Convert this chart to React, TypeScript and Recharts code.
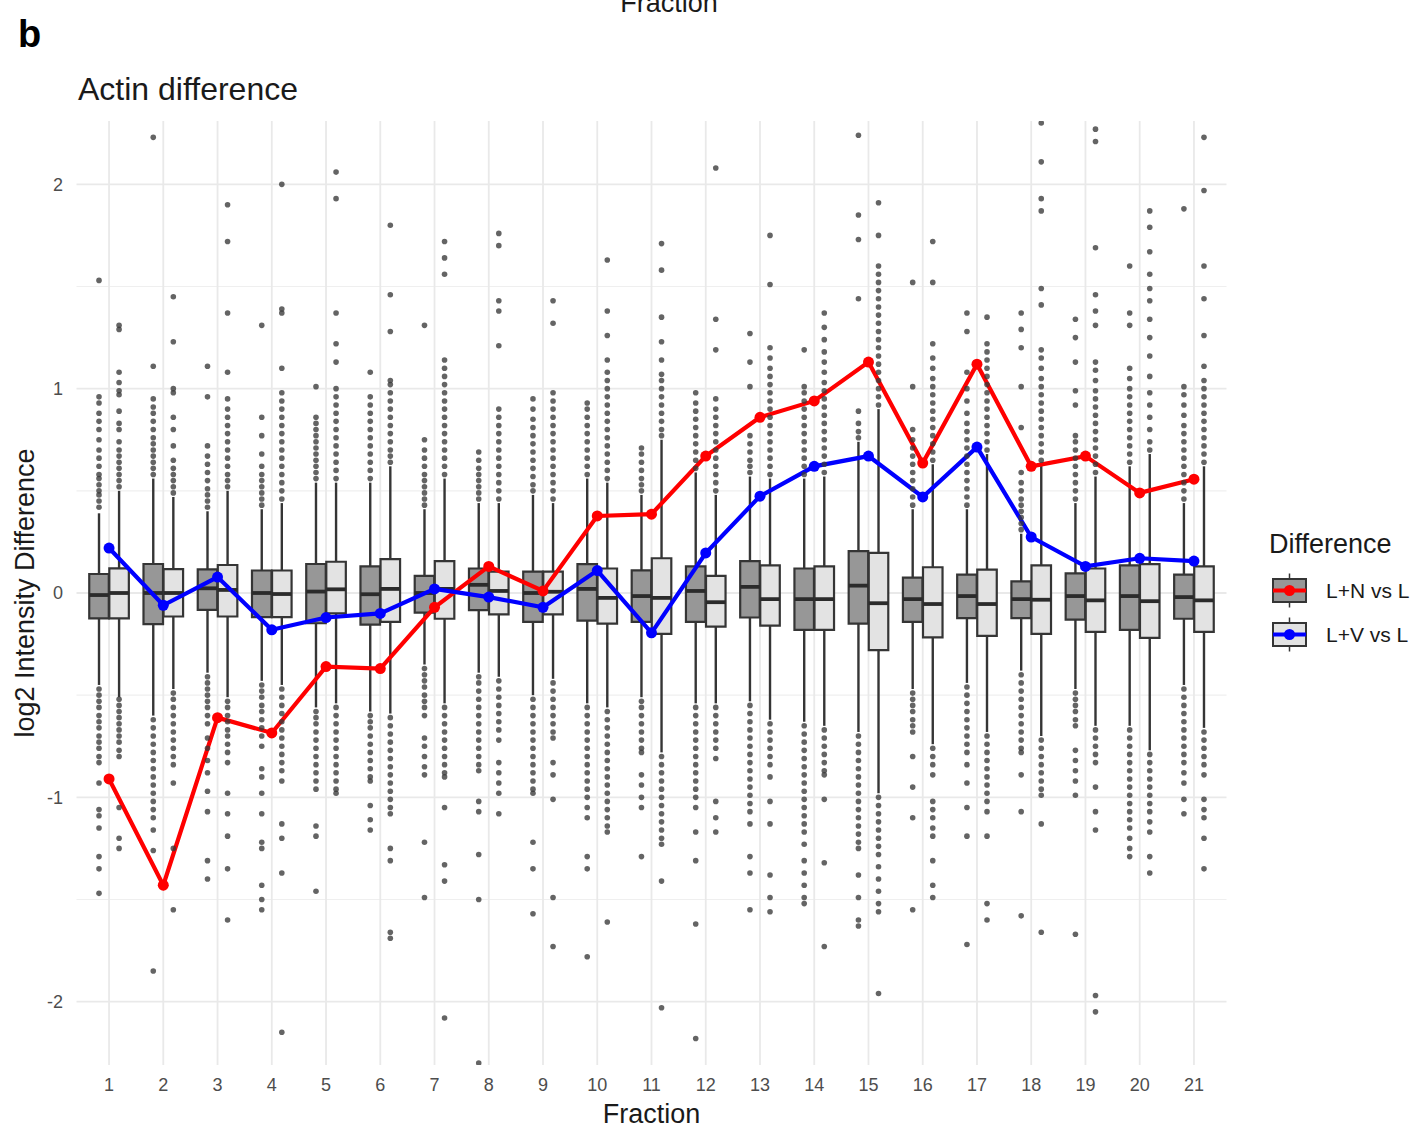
import React from 'react';
import {
  ComposedChart,
  XAxis,
  YAxis,
  CartesianGrid,
  ReferenceArea,
  ReferenceLine,
  Scatter,
  Line,
} from 'recharts';

const FONT = '"Liberation Sans", Arial, Helvetica, sans-serif';

const FRACTIONS = [1, 2, 3, 4, 5, 6, 7, 8, 9, 10, 11, 12, 13, 14, 15, 16, 17, 18, 19, 20, 21];
const Y_TICKS = [-2, -1, 0, 1, 2];
const Y_MINOR = [-1.5, -0.5, 0.5, 1.5];

// L+N vs L (dark boxes)
const LN_MEDIAN = [-0.01, 0, 0.023, 0, 0.007, -0.006, 0, 0.04, 0, 0.02, -0.015, 0.01, 0.03, -0.03, 0.036, -0.03, -0.015, -0.03, -0.015, -0.015, -0.02];
const LN_Q3 = [0.093, 0.142, 0.116, 0.11, 0.142, 0.13, 0.084, 0.12, 0.105, 0.141, 0.111, 0.13, 0.156, 0.12, 0.205, 0.075, 0.09, 0.057, 0.096, 0.135, 0.09];
const LN_Q1 = [-0.124, -0.152, -0.083, -0.118, -0.148, -0.155, -0.096, -0.084, -0.141, -0.135, -0.141, -0.141, -0.12, -0.18, -0.15, -0.141, -0.123, -0.123, -0.13, -0.18, -0.126];
const LN_HIGH = [0.39, 0.56, 0.4, 0.41, 0.54, 0.54, 0.41, 0.44, 0.48, 0.56, 0.48, 0.59, 0.57, 0.56, 0.74, 0.41, 0.41, 0.29, 0.44, 0.62, 0.44];
const LN_LOW = [-0.45, -0.6, -0.39, -0.43, -0.56, -0.58, -0.35, -0.39, -0.5, -0.54, -0.51, -0.54, -0.53, -0.63, -0.68, -0.47, -0.44, -0.38, -0.47, -0.65, -0.45];

// L+V vs L (light boxes)
const LV_MEDIAN = [0, 0, 0.015, -0.005, 0.018, 0.02, 0.02, 0.01, 0.006, -0.024, -0.024, -0.045, -0.03, -0.03, -0.05, -0.054, -0.054, -0.033, -0.036, -0.04, -0.036];
const LV_Q3 = [0.121, 0.117, 0.137, 0.11, 0.153, 0.166, 0.156, 0.105, 0.105, 0.12, 0.17, 0.084, 0.135, 0.13, 0.196, 0.126, 0.114, 0.135, 0.12, 0.141, 0.13];
const LV_Q1 = [-0.124, -0.115, -0.115, -0.118, -0.1, -0.141, -0.126, -0.105, -0.105, -0.15, -0.2, -0.165, -0.16, -0.18, -0.28, -0.217, -0.21, -0.2, -0.19, -0.22, -0.19];
const LV_HIGH = [0.5, 0.47, 0.5, 0.44, 0.54, 0.62, 0.56, 0.44, 0.44, 0.54, 0.75, 0.48, 0.56, 0.57, 0.9, 0.63, 0.68, 0.63, 0.57, 0.68, 0.62];
const LV_LOW = [-0.51, -0.47, -0.51, -0.45, -0.54, -0.59, -0.54, -0.41, -0.42, -0.56, -0.78, -0.54, -0.62, -0.65, -0.98, -0.74, -0.68, -0.7, -0.65, -0.77, -0.66];

// summary lines
const LN_LINE = [-0.91, -1.43, -0.61, -0.685, -0.36, -0.37, -0.07, 0.13, 0.01, 0.377, 0.386, 0.67, 0.86, 0.94, 1.13, 0.636, 1.12, 0.62, 0.67, 0.49, 0.557];
const LV_LINE = [0.22, -0.06, 0.078, -0.18, -0.12, -0.1, 0.02, -0.02, -0.07, 0.11, -0.195, 0.196, 0.474, 0.62, 0.67, 0.47, 0.714, 0.274, 0.13, 0.17, 0.156];

// outliers, per fraction
const LN_OUTLIERS = [
  [0.42, 0.45, 0.48, 0.5, 0.53, 0.56, 0.58, 0.62, 0.66, 0.7, 0.75, 0.8, 0.84, 0.88, 0.93, 0.96, 1.53, -0.47, -0.5, -0.53, -0.56, -0.6, -0.63, -0.66, -0.7, -0.73, -0.76, -0.8, -0.83, -0.93, -1.06, -1.09, -1.15, -1.29, -1.35, -1.47],
  [0.58, 0.61, 0.64, 0.67, 0.7, 0.73, 0.76, 0.8, 0.84, 0.88, 0.91, 0.95, 1.11, 2.23, -0.62, -0.66, -0.7, -0.74, -0.78, -0.82, -0.86, -0.9, -0.94, -0.98, -1.02, -1.06, -1.1, -1.16, -1.26, -1.85],
  [0.42, 0.45, 0.48, 0.51, 0.55, 0.59, 0.63, 0.67, 0.72, 0.96, 1.11, -0.41, -0.44, -0.47, -0.5, -0.53, -0.56, -0.6, -0.64, -0.71, -0.76, -0.82, -0.88, -0.97, -1.07, -1.31, -1.4],
  [0.43, 0.46, 0.49, 0.52, 0.55, 0.58, 0.62, 0.68, 0.77, 0.86, 1.31, -0.45, -0.48, -0.51, -0.55, -0.58, -0.62, -0.66, -0.7, -0.75, -0.86, -0.9, -0.98, -1.08, -1.22, -1.25, -1.43, -1.5, -1.55],
  [0.56, 0.59, 0.62, 0.65, 0.68, 0.71, 0.74, 0.77, 0.8, 0.83, 0.86, 1.01, -0.58, -0.61, -0.64, -0.68, -0.72, -0.76, -0.8, -0.84, -0.88, -0.92, -0.96, -1.14, -1.19, -1.46],
  [0.56, 0.6, 0.64, 0.68, 0.72, 0.76, 0.8, 0.84, 0.88, 0.92, 0.96, 1.08, -0.6, -0.63, -0.66, -0.7, -0.74, -0.78, -0.82, -0.86, -0.9, -0.92, -1.04, -1.11, -1.16],
  [0.43, 0.46, 0.49, 0.52, 0.55, 0.58, 0.62, 0.66, 0.7, 0.75, 1.31, -0.37, -0.4, -0.43, -0.46, -0.5, -0.53, -0.56, -0.6, -0.71, -0.75, -0.8, -0.85, -0.89, -1.22, -1.49],
  [0.46, 0.49, 0.52, 0.55, 0.58, 0.61, 0.65, 0.69, -0.41, -0.44, -0.48, -0.52, -0.56, -0.6, -0.64, -0.68, -0.72, -0.76, -0.8, -0.84, -0.87, -1.02, -1.07, -1.28, -1.5, -2.3],
  [0.5, 0.53, 0.57, 0.61, 0.65, 0.69, 0.73, 0.77, 0.81, 0.85, 0.9, 0.95, -0.52, -0.56, -0.6, -0.64, -0.68, -0.72, -0.76, -0.8, -0.84, -0.88, -0.92, -0.96, -0.98, -1.22, -1.35, -1.57],
  [0.58, 0.62, 0.66, 0.7, 0.74, 0.78, 0.82, 0.86, 0.9, 0.93, -0.56, -0.6, -0.64, -0.68, -0.72, -0.76, -0.8, -0.84, -0.88, -0.92, -0.96, -1.0, -1.05, -1.1, -1.29, -1.35, -1.78],
  [0.5, 0.53, 0.56, 0.6, 0.64, 0.68, 0.71, -0.53, -0.56, -0.6, -0.64, -0.68, -0.72, -0.76, -0.78, -0.89, -0.94, -1.0, -1.05, -1.29],
  [0.61, 0.65, 0.69, 0.73, 0.77, 0.81, 0.85, 0.89, 0.93, 0.98, -0.56, -0.6, -0.64, -0.68, -0.72, -0.76, -0.8, -0.84, -0.88, -0.92, -0.96, -1.0, -1.05, -1.17, -1.31, -1.62, -2.18],
  [0.59, 0.62, 0.65, 0.69, 0.73, 0.77, 1.01, 1.13, 1.27, -0.55, -0.59, -0.63, -0.67, -0.71, -0.75, -0.79, -0.83, -0.87, -0.91, -0.95, -0.99, -1.03, -1.07, -1.13, -1.29, -1.37, -1.55],
  [0.58, 0.62, 0.66, 0.7, 0.74, 0.78, 0.82, 0.86, 0.9, 0.94, 0.98, 1.01, 1.19, -0.65, -0.69, -0.73, -0.77, -0.81, -0.85, -0.89, -0.93, -0.97, -1.01, -1.05, -1.09, -1.13, -1.17, -1.23, -1.31, -1.37, -1.43, -1.49, -1.52],
  [0.76, 0.79, 0.83, 0.89, 1.44, 1.73, 1.85, 2.24, -0.7, -0.74, -0.78, -0.82, -0.86, -0.9, -0.94, -0.98, -1.02, -1.06, -1.1, -1.14, -1.18, -1.22, -1.25, -1.38, -1.49, -1.6, -1.63],
  [0.43, 0.47, 0.51, 0.55, 0.59, 0.63, 0.67, 0.71, 0.75, 0.8, 1.01, 1.52, -0.49, -0.52, -0.55, -0.58, -0.62, -0.65, -0.68, -0.8, -0.95, -1.1, -1.55],
  [0.43, 0.47, 0.51, 0.55, 0.59, 0.63, 0.67, 0.71, 0.75, 0.79, 0.83, 0.88, 0.94, 1.0, 1.08, 1.28, 1.37, -0.46, -0.5, -0.54, -0.58, -0.62, -0.66, -0.7, -0.74, -0.78, -0.84, -0.93, -1.05, -1.19, -1.72],
  [0.31, 0.34, 0.37, 0.4, 0.43, 0.46, 0.5, 0.54, 0.59, 0.81, 1.01, 1.2, 1.29, 1.37, -0.4, -0.44, -0.48, -0.52, -0.56, -0.6, -0.64, -0.68, -0.72, -0.76, -0.78, -0.89, -1.07, -1.58],
  [0.46, 0.5, 0.54, 0.58, 0.62, 0.66, 0.7, 0.74, 0.77, 0.92, 0.99, 1.13, 1.25, 1.34, -0.49, -0.52, -0.55, -0.58, -0.62, -0.65, -0.77, -0.82, -0.87, -0.92, -0.99, -1.67],
  [0.64, 0.68, 0.72, 0.76, 0.8, 0.84, 0.88, 0.92, 0.96, 1.0, 1.05, 1.1, 1.31, 1.37, 1.6, -0.67, -0.71, -0.75, -0.79, -0.83, -0.87, -0.91, -0.95, -0.99, -1.03, -1.07, -1.11, -1.15, -1.2, -1.25, -1.29],
  [0.46, 0.5, 0.54, 0.58, 0.62, 0.66, 0.7, 0.74, 0.78, 0.82, 0.87, 0.92, 0.97, 1.01, 1.88, -0.47, -0.51, -0.55, -0.59, -0.63, -0.67, -0.71, -0.75, -0.79, -0.83, -0.88, -0.93, -1.01, -1.08],
];

const LV_OUTLIERS = [
  [0.52, 0.55, 0.58, 0.61, 0.64, 0.67, 0.7, 0.74, 0.8, 0.83, 0.89, 0.97, 0.99, 1.03, 1.08, 1.29, 1.31, -0.52, -0.55, -0.58, -0.61, -0.64, -0.67, -0.7, -0.73, -0.77, -0.8, -1.05, -1.2, -1.25],
  [0.49, 0.52, 0.55, 0.58, 0.61, 0.65, 0.72, 0.8, 0.86, 0.98, 1.0, 1.23, 1.45, -0.49, -0.52, -0.56, -0.6, -0.64, -0.68, -0.72, -0.76, -0.8, -0.84, -0.93, -1.25, -1.55],
  [0.52, 0.55, 0.58, 0.62, 0.66, 0.7, 0.74, 0.78, 0.82, 0.86, 0.9, 0.95, 1.08, 1.37, 1.72, 1.9, -0.53, -0.56, -0.6, -0.63, -0.67, -0.7, -0.74, -0.78, -0.83, -0.98, -1.08, -1.19, -1.35, -1.6],
  [0.46, 0.5, 0.54, 0.58, 0.62, 0.66, 0.7, 0.74, 0.78, 0.82, 0.86, 0.9, 0.94, 0.98, 1.1, 1.37, 1.39, 2.0, -0.47, -0.51, -0.55, -0.59, -0.63, -0.67, -0.71, -0.75, -0.79, -0.83, -0.87, -0.92, -1.13, -1.2, -1.37, -2.15],
  [0.56, 0.6, 0.64, 0.68, 0.72, 0.76, 0.8, 0.84, 0.88, 0.92, 0.96, 1.0, 1.13, 1.22, 1.37, 1.93, 2.06, -0.56, -0.6, -0.64, -0.68, -0.72, -0.76, -0.8, -0.84, -0.88, -0.92, -0.96, -0.98],
  [0.64, 0.67, 0.7, 0.74, 0.78, 0.82, 0.86, 0.9, 0.94, 0.98, 1.02, 1.04, 1.28, 1.46, 1.8, -0.61, -0.65, -0.69, -0.73, -0.77, -0.81, -0.85, -0.89, -0.93, -0.97, -1.01, -1.05, -1.08, -1.25, -1.31, -1.66, -1.69],
  [0.58, 0.62, 0.66, 0.7, 0.74, 0.78, 0.82, 0.86, 0.9, 0.94, 0.98, 1.02, 1.06, 1.1, 1.14, 1.56, 1.64, 1.72, -0.56, -0.6, -0.64, -0.68, -0.72, -0.76, -0.8, -0.84, -0.88, -0.9, -1.05, -1.33, -1.41, -2.08],
  [0.46, 0.5, 0.54, 0.58, 0.62, 0.66, 0.7, 0.74, 0.78, 0.82, 0.86, 0.9, 1.21, 1.38, 1.43, 1.7, 1.76, -0.43, -0.47, -0.51, -0.55, -0.59, -0.63, -0.67, -0.72, -0.83, -0.88, -0.93, -0.98, -1.08],
  [0.46, 0.5, 0.54, 0.58, 0.62, 0.66, 0.7, 0.74, 0.78, 0.82, 0.86, 0.9, 0.94, 0.98, 1.32, 1.43, -0.44, -0.48, -0.52, -0.56, -0.6, -0.64, -0.68, -0.71, -0.83, -0.89, -1.01, -1.49, -1.73],
  [0.56, 0.6, 0.64, 0.68, 0.72, 0.76, 0.8, 0.84, 0.88, 0.92, 0.96, 1.0, 1.04, 1.08, 1.14, 1.26, 1.38, 1.63, -0.58, -0.62, -0.66, -0.7, -0.74, -0.78, -0.82, -0.86, -0.9, -0.94, -0.98, -1.02, -1.06, -1.1, -1.14, -1.17, -1.61],
  [0.77, 0.8, 0.84, 0.88, 0.92, 0.96, 1.0, 1.04, 1.07, 1.14, 1.23, 1.35, 1.58, 1.71, -0.8, -0.84, -0.88, -0.92, -0.96, -1.0, -1.04, -1.08, -1.12, -1.16, -1.2, -1.23, -1.41, -2.03],
  [0.5, 0.54, 0.58, 0.62, 0.66, 0.7, 0.74, 0.78, 0.82, 0.86, 0.9, 0.95, 1.19, 1.34, 2.08, -0.56, -0.6, -0.64, -0.68, -0.72, -0.76, -0.81, -1.02, -1.1, -1.17],
  [0.58, 0.62, 0.66, 0.7, 0.74, 0.78, 0.82, 0.86, 0.9, 0.94, 0.98, 1.02, 1.06, 1.1, 1.15, 1.2, 1.51, 1.75, -0.64, -0.68, -0.72, -0.76, -0.8, -0.84, -0.9, -1.02, -1.13, -1.38, -1.49, -1.56],
  [0.59, 0.63, 0.67, 0.71, 0.75, 0.79, 0.83, 0.87, 0.91, 0.95, 0.99, 1.03, 1.08, 1.13, 1.18, 1.24, 1.3, 1.37, -0.67, -0.71, -0.75, -0.79, -0.83, -0.87, -0.89, -1.01, -1.32, -1.73],
  [0.92, 0.96, 1.0, 1.04, 1.08, 1.12, 1.16, 1.2, 1.24, 1.28, 1.32, 1.36, 1.4, 1.44, 1.48, 1.52, 1.56, 1.6, 1.75, 1.91, -1.0, -1.04, -1.08, -1.12, -1.16, -1.2, -1.24, -1.28, -1.34, -1.4, -1.46, -1.52, -1.56, -1.96],
  [0.65, 0.69, 0.73, 0.77, 0.81, 0.85, 0.89, 0.93, 0.97, 1.01, 1.05, 1.1, 1.15, 1.22, 1.52, 1.72, -0.76, -0.8, -0.84, -0.89, -1.02, -1.06, -1.1, -1.15, -1.19, -1.31, -1.43, -1.49],
  [0.7, 0.74, 0.78, 0.82, 0.86, 0.9, 0.94, 0.98, 1.02, 1.06, 1.1, 1.14, 1.18, 1.22, 1.35, -0.7, -0.74, -0.78, -0.82, -0.86, -0.9, -0.94, -0.98, -1.02, -1.07, -1.19, -1.52, -1.6],
  [0.65, 0.69, 0.73, 0.77, 0.81, 0.85, 0.89, 0.93, 0.97, 1.01, 1.05, 1.1, 1.15, 1.19, 1.41, 1.49, 1.87, 1.93, 2.11, 2.3, -0.72, -0.76, -0.8, -0.84, -0.88, -0.92, -0.96, -0.99, -1.13, -1.66],
  [0.59, 0.63, 0.67, 0.71, 0.75, 0.79, 0.83, 0.87, 0.91, 0.95, 0.99, 1.04, 1.09, 1.13, 1.31, 1.38, 1.46, 1.69, 2.21, 2.27, -0.67, -0.71, -0.75, -0.79, -0.83, -0.95, -1.07, -1.16, -1.97, -2.05],
  [0.7, 0.74, 0.8, 0.86, 0.92, 0.98, 1.06, 1.16, 1.25, 1.34, 1.43, 1.49, 1.56, 1.67, 1.79, 1.87, -0.79, -0.83, -0.87, -0.91, -0.95, -0.99, -1.03, -1.07, -1.12, -1.17, -1.29, -1.37],
  [0.64, 0.68, 0.72, 0.76, 0.8, 0.84, 0.88, 0.92, 0.96, 1.0, 1.04, 1.11, 1.26, 1.44, 1.6, 1.97, 2.23, -0.68, -0.72, -0.76, -0.8, -0.84, -0.89, -1.01, -1.06, -1.1, -1.2, -1.35],
];

const DODGE = 0.185;
const HALF = 0.18;
const DARK_FILL = '#979797';
const LIGHT_FILL = '#e3e3e3';
const BOX_STROKE = '#353535';

type Box = { key: string; cx: number; med: number; q1: number; q3: number; lo: number; hi: number; fill: string };

const boxes: Box[] = FRACTIONS.flatMap((f, i) => [
  { key: `ln${f}`, cx: f - DODGE, med: LN_MEDIAN[i], q1: LN_Q1[i], q3: LN_Q3[i], lo: LN_LOW[i], hi: LN_HIGH[i], fill: DARK_FILL },
  { key: `lv${f}`, cx: f + DODGE, med: LV_MEDIAN[i], q1: LV_Q1[i], q3: LV_Q3[i], lo: LV_LOW[i], hi: LV_HIGH[i], fill: LIGHT_FILL },
]);

const outliers = FRACTIONS.flatMap((f, i) => [
  ...LN_OUTLIERS[i].map((y) => ({ x: f - DODGE, y })),
  ...LV_OUTLIERS[i].map((y) => ({ x: f + DODGE, y })),
]);

const lnLine = FRACTIONS.map((f, i) => ({ x: f, y: LN_LINE[i] }));
const lvLine = FRACTIONS.map((f, i) => ({ x: f, y: LV_LINE[i] }));

const OutlierDot = (props: any) => {
  const { cx, cy } = props;
  if (cx == null || cy == null) return null;
  return <circle cx={cx} cy={cy} r={2.8} fill="#383838" fillOpacity={0.78} />;
};

const LegendKey = ({ y, fill, color }: { y: number; fill: string; color: string }) => (
  <g>
    <line x1={1289.5} x2={1289.5} y1={y - 17} y2={y + 17} stroke={BOX_STROKE} strokeWidth={1.5} />
    <rect x={1273} y={y - 11.5} width={33} height={23} fill={fill} stroke={BOX_STROKE} strokeWidth={2} />
    <line x1={1273} x2={1306} y1={y} y2={y} stroke={color} strokeWidth={4} />
    <circle cx={1289.5} cy={y} r={5.5} fill={color} />
  </g>
);

export default function App() {
  return (
    <div style={{ position: 'absolute', left: 0, top: 0, width: 1414, height: 1128, background: '#fff', fontFamily: FONT }}>
      <ComposedChart
        width={1414}
        height={1128}
        margin={{ top: 121, right: 187.5, bottom: 33, left: 36.5 }}
      >
        <CartesianGrid vertical={false} horizontalValues={Y_MINOR} stroke="#efefef" strokeWidth={1.2} syncWithTicks />
        <CartesianGrid stroke="#e9e9e9" strokeWidth={1.8} syncWithTicks />
        <XAxis
          type="number"
          dataKey="x"
          domain={[0.4, 21.6]}
          ticks={FRACTIONS}
          allowDataOverflow
          axisLine={false}
          tickLine={false}
          tickSize={6}
          tickMargin={7}
          height={30}
          interval={0}
          tick={{ fill: '#4d4d4d', fontSize: 18, fontFamily: FONT }}
        />
        <YAxis
          type="number"
          dataKey="y"
          domain={[-2.31, 2.31]}
          ticks={Y_TICKS}
          allowDataOverflow
          axisLine={false}
          tickLine={false}
          tickSize={6}
          tickMargin={7.5}
          width={40}
          tick={{ fill: '#4d4d4d', fontSize: 18, fontFamily: FONT }}
        />
        {boxes.map((b) => (
          <React.Fragment key={b.key}>
            <ReferenceLine segment={[{ x: b.cx, y: b.q3 }, { x: b.cx, y: b.hi }]} stroke={BOX_STROKE} strokeWidth={2.4} />
            <ReferenceLine segment={[{ x: b.cx, y: b.q1 }, { x: b.cx, y: b.lo }]} stroke={BOX_STROKE} strokeWidth={2.4} />
            <ReferenceArea
              x1={b.cx - HALF}
              x2={b.cx + HALF}
              y1={b.q1}
              y2={b.q3}
              fill={b.fill}
              fillOpacity={1}
              stroke={BOX_STROKE}
              strokeWidth={2.2}
              strokeOpacity={1}
            />
            <ReferenceLine segment={[{ x: b.cx - HALF, y: b.med }, { x: b.cx + HALF, y: b.med }]} stroke="#2b2b2b" strokeWidth={3.8} />
          </React.Fragment>
        ))}
        <Scatter data={outliers} dataKey="y" shape={<OutlierDot />} isAnimationActive={false} legendType="none" />
        <Line
          data={lnLine}
          dataKey="y"
          type="linear"
          stroke="#ff0000"
          strokeWidth={4.2}
          dot={{ r: 5.5, fill: '#ff0000', stroke: '#ff0000', strokeWidth: 0 }}
          activeDot={false}
          isAnimationActive={false}
          legendType="none"
        />
        <Line
          data={lvLine}
          dataKey="y"
          type="linear"
          stroke="#0000ff"
          strokeWidth={4.2}
          dot={{ r: 5.5, fill: '#0000ff', stroke: '#0000ff', strokeWidth: 0 }}
          activeDot={false}
          isAnimationActive={false}
          legendType="none"
        />
      </ComposedChart>
      <svg
        width={1414}
        height={1128}
        style={{ position: 'absolute', left: 0, top: 0, pointerEvents: 'none' }}
        fontFamily={FONT}
      >
        <text x={669} y={11.5} textAnchor="middle" fontSize={27} fill="#1a1a1a">Fraction</text>
        <text x={18} y={47} fontSize={38} fontWeight="bold" fill="#000">b</text>
        <text x={78} y={100} fontSize={32} fill="#1a1a1a">Actin difference</text>
        <text x={651.5} y={1123} textAnchor="middle" fontSize={27} fill="#1a1a1a">Fraction</text>
        <text
          x={34}
          y={593}
          textAnchor="middle"
          fontSize={27}
          fill="#1a1a1a"
          transform="rotate(-90, 34, 593)"
        >
          log2 Intensity Difference
        </text>
        <text x={1269} y={553} fontSize={27} fill="#1a1a1a">Difference</text>
        <LegendKey y={590.5} fill={DARK_FILL} color="#ff0000" />
        <LegendKey y={634.5} fill={LIGHT_FILL} color="#0000ff" />
        <text x={1326} y={598} fontSize={21} fill="#1a1a1a">L+N vs L</text>
        <text x={1326} y={642} fontSize={21} fill="#1a1a1a">L+V vs L</text>
      </svg>
    </div>
  );
}
